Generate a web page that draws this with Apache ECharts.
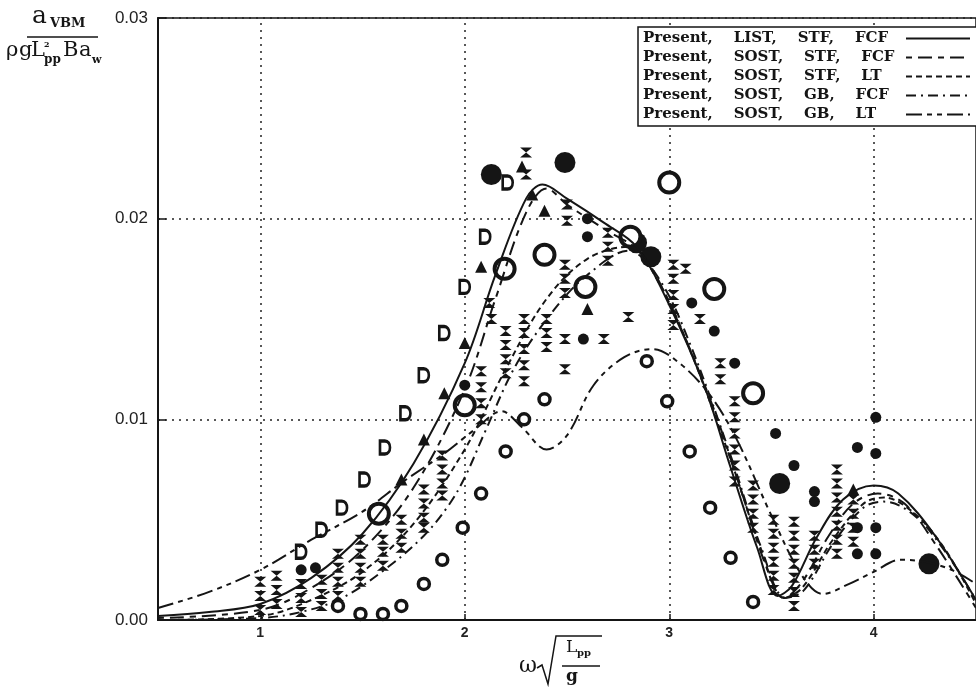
<!DOCTYPE html>
<html>
<head>
<meta charset="utf-8">
<script src="https://cdn.jsdelivr.net/npm/echarts@6/dist/echarts.min.js"></script>
<style>
  html, body { margin: 0; padding: 0; background: #fff; }
  #chart { width: 976px; height: 691px; }
</style>
</head>
<body>
<div id="chart"></div>
<script>
// tick positions on the x axis
const xTicks = [1, 2, 3, 4]

// legend names of the five computed curves
const names = [
  'Present,    LIST,    STF,    FCF',
  'Present,    SOST,    STF,    FCF',
  'Present,    SOST,    STF,    LT',
  'Present,    SOST,    GB,    FCF',
  'Present,    SOST,    GB,    LT'
]

// computed curves, [omega*sqrt(Lpp/g), aVBM]
const listStfFcf = [[0.5, 0.0002], [0.75, 0.0004], [1.0, 0.0008], [1.25, 0.0021], [1.5, 0.0043], [1.75, 0.0078],
  [2.0, 0.0128], [2.15, 0.0172], [2.3, 0.0210], [2.38, 0.0217], [2.5, 0.0210], [2.68, 0.0198], [2.84, 0.0186],
  [3.0, 0.0157], [3.17, 0.0117], [3.3, 0.0076], [3.43, 0.0036], [3.53, 0.0012], [3.6, 0.0017], [3.72, 0.0041],
  [3.85, 0.0060], [4.0, 0.0067], [4.12, 0.0063], [4.3, 0.0042], [4.5, 0.0010]]
const sostStfFcf = [[0.5, 0.0001], [1.0, 0.0005], [1.25, 0.0016], [1.5, 0.0035], [1.75, 0.0066], [2.0, 0.0115],
  [2.15, 0.0160], [2.3, 0.0203], [2.4, 0.0215], [2.5, 0.0207], [2.68, 0.0195], [2.86, 0.0183], [3.0, 0.0158],
  [3.2, 0.0110], [3.35, 0.0065], [3.48, 0.0025], [3.56, 0.0011], [3.65, 0.0019], [3.78, 0.0042], [3.9, 0.0058],
  [4.02, 0.0063], [4.15, 0.0058], [4.3, 0.0038], [4.5, 0.0006]]
const sostStfLt = [[0.5, 0.0], [1.0, 0.0002], [1.25, 0.0010], [1.5, 0.0024], [1.75, 0.0048], [2.0, 0.0085],
  [2.2, 0.0125], [2.4, 0.0160], [2.6, 0.0180], [2.8, 0.0186], [2.95, 0.0168], [3.1, 0.0135], [3.3, 0.0080],
  [3.45, 0.0035], [3.56, 0.0011], [3.65, 0.0016], [3.8, 0.0040], [3.95, 0.0058], [4.05, 0.0061], [4.2, 0.0053],
  [4.35, 0.0035], [4.5, 0.0008]]
const sostGbFcf = [[0.5, 0.0], [1.0, 0.0001], [1.2, 0.0004], [1.4, 0.0011], [1.62, 0.0026], [1.8, 0.0042],
  [1.92, 0.0057], [2.0, 0.0071], [2.1, 0.0094], [2.25, 0.0127], [2.44, 0.0155], [2.6, 0.0172], [2.8, 0.0184],
  [2.95, 0.0170], [3.1, 0.0138], [3.3, 0.0082], [3.45, 0.0036], [3.57, 0.0011], [3.66, 0.0015], [3.8, 0.0038],
  [3.95, 0.0056], [4.05, 0.0059], [4.2, 0.0052], [4.35, 0.0034], [4.5, 0.0010]]
const sostGbLt = [[0.5, 0.0006], [0.75, 0.0014], [1.0, 0.0025], [1.25, 0.0040], [1.5, 0.0054], [1.7, 0.0069],
  [1.9, 0.0083], [2.05, 0.0095], [2.18, 0.0104], [2.28, 0.0096], [2.4, 0.0085], [2.5, 0.0092], [2.63, 0.0117],
  [2.78, 0.0131], [2.92, 0.0135], [3.05, 0.0128], [3.2, 0.0112], [3.33, 0.0090], [3.5, 0.0052], [3.65, 0.0022],
  [3.75, 0.0013], [3.88, 0.0018], [4.0, 0.0024], [4.13, 0.0030], [4.25, 0.0029], [4.38, 0.0025], [4.5, 0.0018]]

// measured points, grouped by marker shape
const ringPts = [[2.0, 0.0107], [2.195, 0.0175], [2.39, 0.0182], [2.59, 0.0166], [3.0, 0.0218], [3.22, 0.0165],
  [3.41, 0.0113], [1.58, 0.0053], [2.81, 0.0191]]
const bigDotPts = [[2.13, 0.0222], [2.49, 0.0228], [2.91, 0.0181], [3.54, 0.0068], [4.27, 0.0028], [2.84, 0.0188]]
const dotPts = [[3.11, 0.0158], [3.22, 0.0144], [3.32, 0.0128], [3.52, 0.0093], [3.61, 0.0077], [3.71, 0.0064],
  [3.71, 0.0059], [4.01, 0.0101], [3.92, 0.0086], [4.01, 0.0083], [4.01, 0.0046], [3.92, 0.0046], [4.01, 0.0033],
  [3.92, 0.0033], [2.6, 0.0200], [2.6, 0.0191], [2.58, 0.0140], [2.0, 0.0117], [1.2, 0.0025], [1.27, 0.0026]]
const triPts = [[2.28, 0.0226], [2.08, 0.0176], [2.39, 0.0204], [2.6, 0.0155], [2.0, 0.0138], [1.9, 0.0113],
  [1.8, 0.0090], [1.69, 0.0070], [3.9, 0.0065], [2.33, 0.0212]]
const bowtiePts = [
  [1.0, 0.0019], [1.0, 0.0012], [1.0, 0.0005],
  [1.08, 0.0022], [1.08, 0.0015], [1.08, 0.0008],
  [1.2, 0.0018], [1.2, 0.0011], [1.2, 0.0004],
  [1.3, 0.0020], [1.3, 0.0013], [1.3, 0.0007],
  [1.38, 0.0033], [1.38, 0.0026], [1.38, 0.0019], [1.38, 0.0012],
  [1.49, 0.0040], [1.49, 0.0033], [1.49, 0.0026], [1.49, 0.0019],
  [1.6, 0.0040], [1.6, 0.0034], [1.6, 0.0027],
  [1.69, 0.0050], [1.69, 0.0043], [1.69, 0.0036],
  [1.8, 0.0065], [1.8, 0.0058], [1.8, 0.0051], [1.8, 0.0046],
  [1.89, 0.0082], [1.89, 0.0075], [1.89, 0.0068], [1.89, 0.0062],
  [2.08, 0.0124], [2.08, 0.0116], [2.08, 0.0108], [2.08, 0.0100],
  [2.2, 0.0144], [2.2, 0.0137], [2.2, 0.0130], [2.2, 0.0123],
  [2.29, 0.0150], [2.29, 0.0143], [2.29, 0.0135], [2.29, 0.0127], [2.29, 0.0119],
  [2.4, 0.0150], [2.4, 0.0143], [2.4, 0.0136],
  [2.49, 0.0177], [2.49, 0.0170], [2.49, 0.0163],
  [2.5, 0.0207], [2.5, 0.0199],
  [2.7, 0.0193], [2.7, 0.0186], [2.7, 0.0179],
  [3.02, 0.0177], [3.02, 0.0170], [3.02, 0.0162], [3.02, 0.0155], [3.02, 0.0147],
  [3.32, 0.0109], [3.32, 0.0101], [3.32, 0.0093], [3.32, 0.0085], [3.32, 0.0077], [3.32, 0.0069],
  [3.41, 0.0067], [3.41, 0.0060], [3.41, 0.0053], [3.41, 0.0046],
  [3.51, 0.0050], [3.51, 0.0043], [3.51, 0.0036], [3.51, 0.0029], [3.51, 0.0022], [3.51, 0.0015],
  [3.61, 0.0049], [3.61, 0.0042], [3.61, 0.0035], [3.61, 0.0028], [3.61, 0.0021], [3.61, 0.0014], [3.61, 0.0007],
  [3.71, 0.0042], [3.71, 0.0035], [3.71, 0.0028],
  [3.82, 0.0075], [3.82, 0.0068], [3.82, 0.0061], [3.82, 0.0054], [3.82, 0.0047], [3.82, 0.0040], [3.82, 0.0033],
  [3.9, 0.0060], [3.9, 0.0053], [3.9, 0.0046], [3.9, 0.0039],
  [2.3, 0.0233], [2.3, 0.0222], [2.12, 0.0158], [2.13, 0.0150],
  [3.08, 0.0175], [3.15, 0.0150], [3.25, 0.0128], [3.25, 0.0120], [2.8, 0.0151], [2.49, 0.0140],
  [2.68, 0.0140], [2.49, 0.0125]
]
const deePts = [[2.21, 0.0218], [2.1, 0.0191], [2.0, 0.0166], [1.9, 0.0143], [1.8, 0.0122], [1.71, 0.0103],
  [1.61, 0.0086], [1.51, 0.0070], [1.4, 0.0056], [1.3, 0.0045], [1.2, 0.0034]]
const ceePts = [[2.08, 0.0063], [1.99, 0.0046], [1.89, 0.0030], [1.8, 0.0018], [1.69, 0.0007], [1.6, 0.0003],
  [1.49, 0.0003], [1.38, 0.0007], [2.2, 0.0084], [2.29, 0.0100], [2.39, 0.0110], [2.89, 0.0129], [2.99, 0.0109],
  [3.1, 0.0084], [3.2, 0.0056], [3.3, 0.0031], [3.41, 0.0009]]

const ink = '#151515'
const serif = '"DejaVu Serif"'
const chart = echarts.init(document.getElementById('chart'))

/**
 * one computed curve
 */
function curve(name, data, dash) {
  return {
    name: name,
    type: 'line',
    data: data,
    smooth: 0.35,
    symbol: 'none',
    z: 5,
    itemStyle: { color: ink },
    lineStyle: { color: ink, width: 2, type: dash }
  }
}

/**
 * one group of measured points
 */
function marks(data, symbol, size, style) {
  return {
    type: 'scatter',
    data: data,
    symbol: symbol,
    symbolSize: size,
    z: 3,
    itemStyle: Object.assign({ color: ink, opacity: 1 }, style || {})
  }
}

/**
 * a piece of the axis titles
 */
function word(text, left, top, size, weight) {
  return {
    type: 'text', left: left, top: top,
    style: { text: text, font: (weight || 'normal') + ' ' + size + 'px ' + serif, fill: ink }
  }
}

const bowtie = 'path://M0,0 L10,0 L5,5 L10,10 L0,10 L5,5 Z'
const dee = 'path://M0,0 L5,0 C12,0 12,12 5,12 L0,12 Z'

const dotted = { type: [2, 5], color: '#222', width: 1.5 }

const option = {
  animation: false,
  backgroundColor: '#fff',
  grid: {
    left: 158, top: 18, width: 821, height: 602,
    show: true, borderColor: ink, borderWidth: 1.5, backgroundColor: 'transparent'
  },
  xAxis: {
    type: 'value', min: 0.5, max: 4.5, interval: 0.5,
    axisLine: { lineStyle: { color: ink, width: 2 } },
    axisTick: { show: true, inside: true, length: 6, customValues: xTicks, lineStyle: { color: ink, width: 1.5 } },
    axisLabel: {
      customValues: xTicks,
      formatter: v => (Number.isInteger(v) ? String(v) : ''),
      fontFamily: 'Liberation Sans', fontSize: 14, fontWeight: 'bold', color: '#222', margin: 6
    },
    splitLine: { show: false }
  },
  yAxis: {
    type: 'value', min: 0, max: 0.03, interval: 0.01,
    axisLine: { show: true, lineStyle: { color: ink, width: 2 } },
    axisTick: { show: true, inside: true, length: 8, lineStyle: { color: ink, width: 1.5 } },
    axisLabel: {
      formatter: v => v.toFixed(2),
      fontFamily: 'Liberation Sans', fontSize: 17, color: '#222', margin: 10
    },
    splitLine: { show: true, lineStyle: dotted }
  },
  legend: {
    data: names,
    selectedMode: false,
    orient: 'vertical',
    left: 638, top: 27,
    z: 20,
    align: 'right',
    itemWidth: 64, itemHeight: 13, itemGap: 4,
    padding: [4, 6, 4, 5],
    borderColor: ink, borderWidth: 1.5, backgroundColor: '#fff',
    itemStyle: { opacity: 0 },
    formatter: name => '{t|' + name + '}',
    textStyle: {
      rich: {
        t: { fontFamily: 'DejaVu Serif', fontSize: 15, fontWeight: 'bold', color: ink, width: 258, align: 'left', lineHeight: 16 }
      }
    }
  },
  graphic: [
    // y axis title: a_VBM / (rho g Lpp^2 B a_w)
    word('a', 32, 4, 25),
    word('VBM', 50, 17, 13, 'bold'),
    { type: 'line', shape: { x1: 27, y1: 37, x2: 98, y2: 37 }, style: { stroke: ink, lineWidth: 1.5 } },
    word('ρ', 6, 40, 21),
    word('g', 19, 40, 21),
    word('L', 31, 40, 21),
    word('2', 44, 41, 8, 'bold'),
    word('pp', 44, 54, 12, 'bold'),
    word('B', 63, 40, 21),
    word('a', 79, 40, 21),
    word('w', 92, 55, 11, 'bold'),
    // x axis title: omega sqrt(Lpp/g)
    word('ω', 519, 655, 22),
    {
      type: 'polyline',
      shape: { points: [[537, 668], [542, 665], [548, 684], [556, 636], [602, 636]] },
      style: { stroke: ink, lineWidth: 1.5, fill: null }
    },
    word('L', 566, 639, 17),
    word('pp', 577, 648, 10, 'bold'),
    { type: 'line', shape: { x1: 562, y1: 666, x2: 600, y2: 666 }, style: { stroke: ink, lineWidth: 1.5 } },
    word('g', 566, 668, 17, 'bold')
  ],
  series: [
    marks(bowtiePts, bowtie, [12, 10]),
    marks(deePts, dee, [10, 13], { color: '#fff', borderColor: ink, borderWidth: 3 }),
    marks(ceePts, 'circle', 11, { color: '#fff', borderColor: ink, borderWidth: 3.5 }),
    marks(triPts, 'triangle', 12),
    marks(dotPts, 'circle', 11),
    marks(bigDotPts, 'circle', 21),
    marks(ringPts, 'circle', 20, { color: '#fff', borderColor: ink, borderWidth: 4 }),
    Object.assign(curve(names[0], listStfFcf, 'solid'), {
      markLine: {
        silent: true, symbol: ['none', 'none'], animation: false, z: 1,
        label: { show: false }, lineStyle: dotted,
        data: xTicks.map(v => ({ xAxis: v }))
      }
    }),
    curve(names[1], sostStfFcf, [6, 6, 14, 6]),
    curve(names[2], sostStfLt, [6, 4]),
    curve(names[3], sostGbFcf, [10, 5, 2, 5]),
    curve(names[4], sostGbLt, [16, 5, 5, 5, 5, 5])
  ]
}

chart.setOption(option)
</script>
</body>
</html>
